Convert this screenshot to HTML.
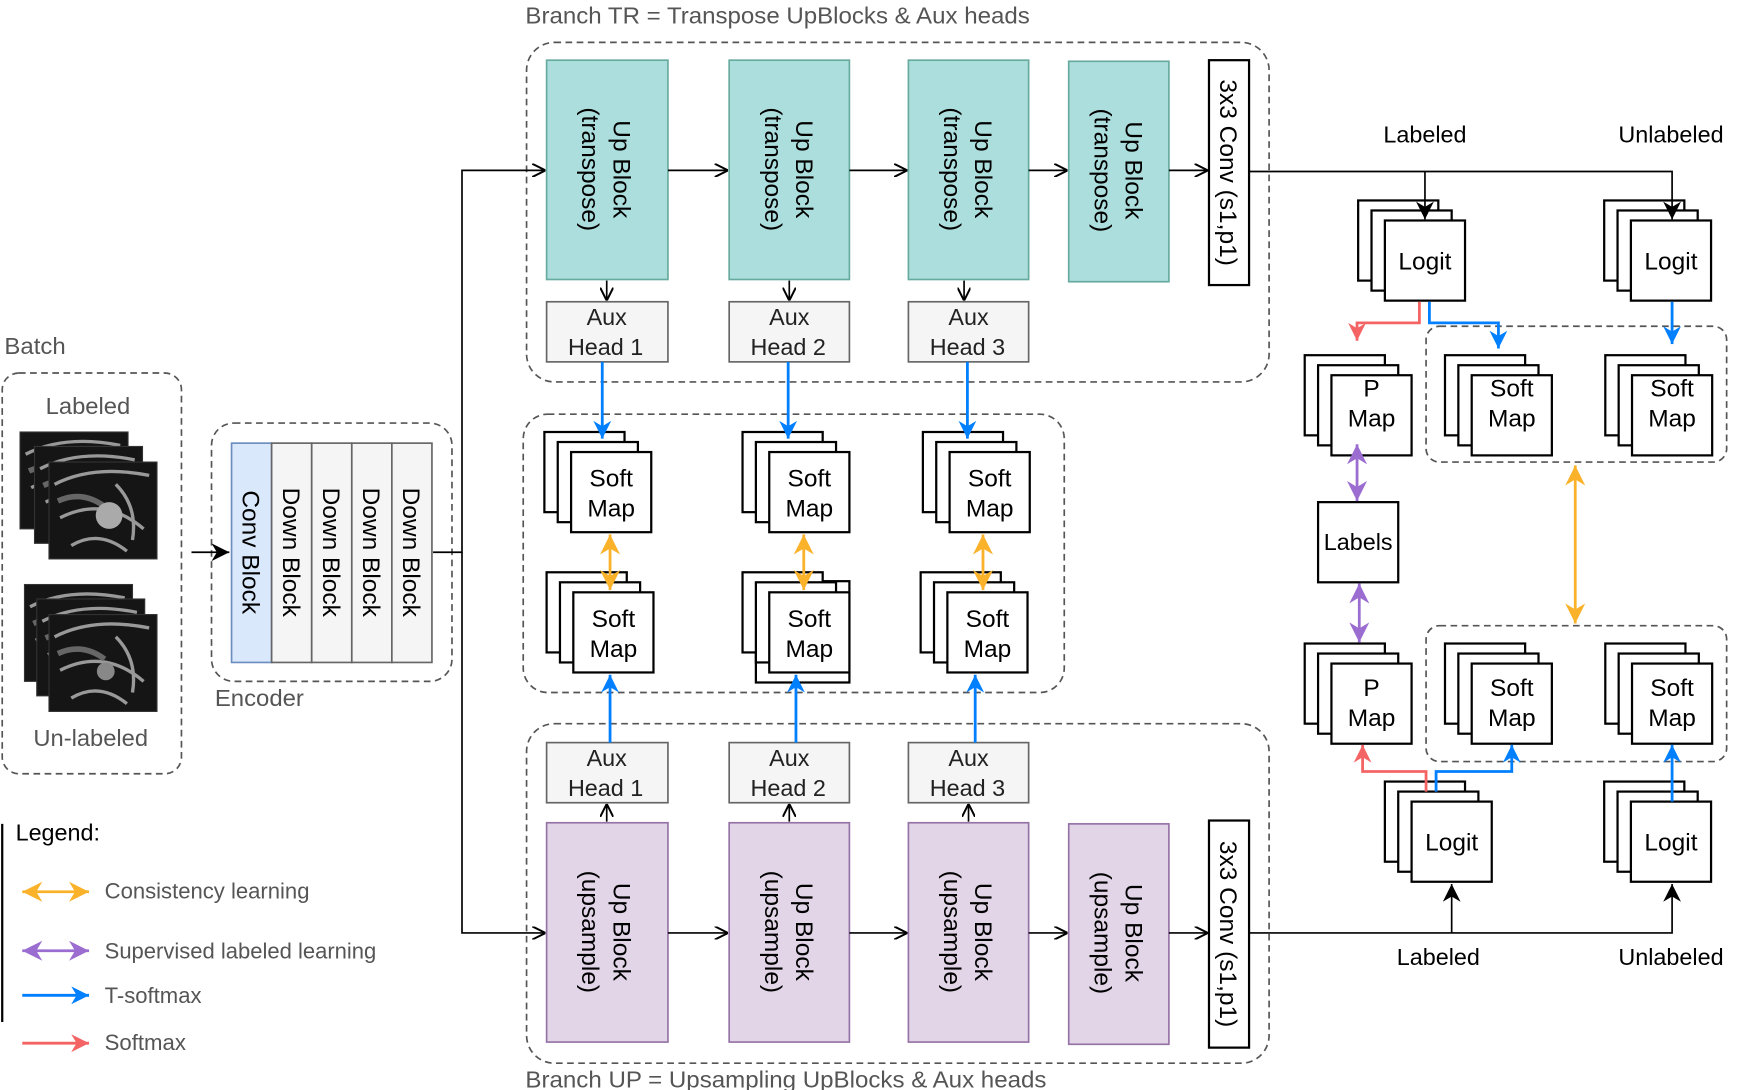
<!DOCTYPE html>
<html><head><meta charset="utf-8"><style>
html,body{margin:0;padding:0;background:#fff;width:1740px;height:1090px;overflow:hidden}
svg{display:block}
text{font-family:"Liberation Sans",sans-serif}
</style></head><body>
<svg width="1740" height="1090" viewBox="0 0 1563 979" xmlns="http://www.w3.org/2000/svg">
<defs>
<marker id="op" viewBox="0 0 10 10" refX="10" refY="5" markerWidth="12" markerHeight="12" markerUnits="userSpaceOnUse" orient="auto"><path d="M0,0 L10,5 L0,10" fill="none" stroke="#000" stroke-width="1.5"/></marker>
<marker id="fk" viewBox="0 0 10 10" refX="10" refY="5" markerWidth="16" markerHeight="16" markerUnits="userSpaceOnUse" orient="auto"><path d="M0,0 L10,5 L0,10 L3,5z" fill="#000"/></marker>
<marker id="fb" viewBox="0 0 10 10" refX="10" refY="5" markerWidth="16" markerHeight="16" markerUnits="userSpaceOnUse" orient="auto"><path d="M0,0 L10,5 L0,10 L3,5z" fill="#007fff"/></marker>
<marker id="fr" viewBox="0 0 10 10" refX="10" refY="5" markerWidth="16" markerHeight="16" markerUnits="userSpaceOnUse" orient="auto"><path d="M0,0 L10,5 L0,10 L3,5z" fill="#f46464"/></marker>
<marker id="fo" viewBox="0 0 10 10" refX="10" refY="5" markerWidth="18" markerHeight="18" markerUnits="userSpaceOnUse" orient="auto-start-reverse"><path d="M0,0 L10,5 L0,10 L3,5z" fill="#fbb22b"/></marker>
<marker id="fp" viewBox="0 0 10 10" refX="10" refY="5" markerWidth="18" markerHeight="18" markerUnits="userSpaceOnUse" orient="auto-start-reverse"><path d="M0,0 L10,5 L0,10 L3,5z" fill="#9b6dd1"/></marker>
<g id="stk" fill="#fff" stroke="#000" stroke-width="2">
<rect x="0" y="0" width="72" height="72"/><rect x="12" y="9" width="72" height="72"/><rect x="24" y="18" width="72" height="72"/>
</g>
<g id="img">
<rect x="0" y="0" width="97" height="87" fill="#151515" stroke="#333"/>
<path d="M5,20 Q40,2 90,12 M10,50 Q50,30 85,60 M20,75 Q45,60 70,80 M60,20 Q80,40 75,70" stroke="#999" stroke-width="3" fill="none"/>
<path d="M8,35 Q30,25 50,40" stroke="#666" stroke-width="5" fill="none"/>
</g>
</defs>

<!-- captions -->
<g fill="#555" font-size="21">
<text x="472" y="21" textLength="453" lengthAdjust="spacingAndGlyphs">Branch TR = Transpose UpBlocks &amp; Aux heads</text>
<text x="472" y="977" textLength="468" lengthAdjust="spacingAndGlyphs">Branch UP = Upsampling UpBlocks &amp; Aux heads</text>
<text x="4" y="318" textLength="55" lengthAdjust="spacingAndGlyphs">Batch</text>
<text x="41" y="372" textLength="76" lengthAdjust="spacingAndGlyphs">Labeled</text>
<text x="30" y="670" textLength="103" lengthAdjust="spacingAndGlyphs">Un-labeled</text>
<text x="193" y="634" textLength="80" lengthAdjust="spacingAndGlyphs">Encoder</text>
<text x="94" y="807" font-size="20" textLength="184" lengthAdjust="spacingAndGlyphs">Consistency learning</text>
<text x="94" y="861" font-size="20" textLength="244" lengthAdjust="spacingAndGlyphs">Supervised labeled learning</text>
<text x="94" y="901" font-size="20" textLength="87" lengthAdjust="spacingAndGlyphs">T-softmax</text>
<text x="94" y="943" font-size="20" textLength="73" lengthAdjust="spacingAndGlyphs">Softmax</text>
</g>

<!-- dashed groups -->
<g fill="none" stroke="#555" stroke-width="1.5" stroke-dasharray="6,4">
<rect x="473" y="38" width="667" height="305" rx="25"/>
<rect x="470" y="372" width="486" height="250" rx="22"/>
<rect x="473" y="650" width="667" height="305" rx="25"/>
<rect x="2" y="335" width="161" height="360" rx="15"/>
<rect x="190" y="380" width="216" height="232" rx="20"/>
<rect x="1281" y="293" width="270" height="122" rx="12"/>
<rect x="1281" y="562" width="270" height="122" rx="12"/>
</g>

<!-- images -->
<use href="#img" x="18" y="388"/><use href="#img" x="31" y="401"/><use href="#img" x="44" y="415"/>
<use href="#img" x="22" y="525"/><use href="#img" x="33" y="538"/><use href="#img" x="44" y="552"/>
<circle cx="98" cy="463" r="12" fill="#aaa"/><circle cx="95" cy="603" r="8" fill="#888"/>

<!-- encoder -->
<rect x="208" y="398" width="36" height="197" fill="#dae8fc" stroke="#6c8ebf" stroke-width="1.5"/>
<g fill="#f5f5f5" stroke="#666" stroke-width="1.5">
<rect x="244" y="398" width="36" height="197"/><rect x="280" y="398" width="36" height="197"/><rect x="316" y="398" width="36" height="197"/><rect x="352" y="398" width="36" height="197"/>
</g>
<g font-size="22" fill="#000" text-anchor="middle">
<text transform="translate(218,496) rotate(90)">Conv Block</text>
<text transform="translate(254,496) rotate(90)">Down Block</text>
<text transform="translate(290,496) rotate(90)">Down Block</text>
<text transform="translate(326,496) rotate(90)">Down Block</text>
<text transform="translate(362,496) rotate(90)">Down Block</text>
</g>

<!-- up blocks -->
<g fill="#acdedd" stroke="#67ab9f" stroke-width="1.5">
<rect x="491" y="54" width="109" height="197"/><rect x="655" y="54" width="108" height="197"/><rect x="816" y="54" width="108" height="197"/><rect x="960" y="55" width="90" height="198"/>
</g>
<g fill="#e1d5e7" stroke="#9673a6" stroke-width="1.5">
<rect x="491" y="739" width="109" height="197"/><rect x="655" y="739" width="108" height="197"/><rect x="816" y="739" width="108" height="197"/><rect x="960" y="740" width="90" height="198"/>
</g>
<g font-size="22" fill="#000" text-anchor="middle">
<text transform="translate(545,152) rotate(90)"><tspan x="0" y="-6">Up Block</tspan><tspan x="0" y="22">(transpose)</tspan></text>
<text transform="translate(709,152) rotate(90)"><tspan x="0" y="-6">Up Block</tspan><tspan x="0" y="22">(transpose)</tspan></text>
<text transform="translate(870,152) rotate(90)"><tspan x="0" y="-6">Up Block</tspan><tspan x="0" y="22">(transpose)</tspan></text>
<text transform="translate(1005,153) rotate(90)"><tspan x="0" y="-6">Up Block</tspan><tspan x="0" y="22">(transpose)</tspan></text>
<text transform="translate(545,837) rotate(90)"><tspan x="0" y="-6">Up Block</tspan><tspan x="0" y="22">(upsample)</tspan></text>
<text transform="translate(709,837) rotate(90)"><tspan x="0" y="-6">Up Block</tspan><tspan x="0" y="22">(upsample)</tspan></text>
<text transform="translate(870,837) rotate(90)"><tspan x="0" y="-6">Up Block</tspan><tspan x="0" y="22">(upsample)</tspan></text>
<text transform="translate(1005,838) rotate(90)"><tspan x="0" y="-6">Up Block</tspan><tspan x="0" y="22">(upsample)</tspan></text>
</g>
<g fill="#fff" stroke="#000" stroke-width="2">
<rect x="1086" y="54" width="36" height="202"/><rect x="1086" y="737" width="36" height="204"/>
</g>
<g font-size="22" text-anchor="middle">
<text transform="translate(1104,155) rotate(90)" y="8">3x3 Conv (s1,p1)</text>
<text transform="translate(1104,839) rotate(90)" y="8">3x3 Conv (s1,p1)</text>
</g>

<!-- aux heads -->
<g fill="#f5f5f5" stroke="#666" stroke-width="1.5">
<rect x="491" y="271" width="109" height="54"/><rect x="655" y="271" width="108" height="54"/><rect x="816" y="271" width="108" height="54"/>
<rect x="491" y="667" width="109" height="54"/><rect x="655" y="667" width="108" height="54"/><rect x="816" y="667" width="108" height="54"/>
</g>
<g font-size="21" fill="#222" text-anchor="middle">
<text x="545" y="292">Aux</text><text x="544" y="319">Head 1</text>
<text x="709" y="292">Aux</text><text x="708" y="319">Head 2</text>
<text x="870" y="292">Aux</text><text x="869" y="319">Head 3</text>
<text x="545" y="688">Aux</text><text x="544" y="715">Head 1</text>
<text x="709" y="688">Aux</text><text x="708" y="715">Head 2</text>
<text x="870" y="688">Aux</text><text x="869" y="715">Head 3</text>
</g>

<!-- black open connectors -->
<g fill="none" stroke="#000" stroke-width="1.5" marker-end="url(#op)">
<path d="M389,496 H415 V153 H490"/>
<path d="M415,496 V838 H490"/>
<path d="M600,153 H654"/><path d="M763,153 H815"/><path d="M924,153 H959"/><path d="M1050,153 H1085"/>
<path d="M600,838 H654"/><path d="M763,838 H815"/><path d="M924,838 H959"/><path d="M1050,838 H1085"/>
<path d="M545,252 V270"/><path d="M709,252 V270"/><path d="M866,252 V270"/>
<path d="M545,738 V722"/><path d="M709,738 V722"/><path d="M870,738 V722"/>
</g>

<!-- stacks -->
<use href="#stk" x="489" y="388"/><use href="#stk" x="667" y="388"/><use href="#stk" x="829" y="388"/>
<rect x="679" y="522" width="84" height="91" fill="#fff" stroke="#000" stroke-width="2"/>
<use href="#stk" x="491" y="514"/><use href="#stk" x="667" y="514"/><use href="#stk" x="827" y="514"/>
<use href="#stk" x="1220" y="180"/><use href="#stk" x="1441" y="180"/>
<use href="#stk" x="1172" y="319"/><use href="#stk" x="1298" y="319"/><use href="#stk" x="1442" y="319"/>
<use href="#stk" x="1172" y="578"/><use href="#stk" x="1298" y="578"/><use href="#stk" x="1442" y="578"/>
<use href="#stk" x="1244" y="702"/><use href="#stk" x="1441" y="702"/>
<rect x="1184" y="451" width="72" height="72" fill="#fff" stroke="#000" stroke-width="2"/>

<g font-size="22" fill="#000" text-anchor="middle">
<text x="549" y="437">Soft</text><text x="549" y="464">Map</text>
<text x="727" y="437">Soft</text><text x="727" y="464">Map</text>
<text x="889" y="437">Soft</text><text x="889" y="464">Map</text>
<text x="551" y="563">Soft</text><text x="551" y="590">Map</text>
<text x="727" y="563">Soft</text><text x="727" y="590">Map</text>
<text x="887" y="563">Soft</text><text x="887" y="590">Map</text>
<text x="1280" y="242">Logit</text><text x="1501" y="242">Logit</text>
<text x="1232" y="356">P</text><text x="1232" y="383">Map</text>
<text x="1358" y="356">Soft</text><text x="1358" y="383">Map</text>
<text x="1502" y="356">Soft</text><text x="1502" y="383">Map</text>
<text x="1232" y="625">P</text><text x="1232" y="652">Map</text>
<text x="1358" y="625">Soft</text><text x="1358" y="652">Map</text>
<text x="1502" y="625">Soft</text><text x="1502" y="652">Map</text>
<text x="1304" y="764">Logit</text><text x="1501" y="764">Logit</text>
<text x="1220" y="494" font-size="21">Labels</text>
<text x="1280" y="128" font-size="21">Labeled</text><text x="1501" y="128" font-size="21">Unlabeled</text>
<text x="1292" y="867" font-size="21">Labeled</text><text x="1501" y="867" font-size="21">Unlabeled</text>
<text x="14" y="755" text-anchor="start" font-size="21">Legend:</text>
</g>

<!-- black filled connectors (on top of stacks) -->
<g fill="none" stroke="#000" stroke-width="1.5" marker-end="url(#fk)">
<path d="M172,496 H206"/>
<path d="M1122,154 H1502 V197"/><path d="M1280,154 V197"/>
<path d="M1122,838 H1502 V794"/><path d="M1304,838 V794"/>
</g>

<!-- blue -->
<g fill="none" stroke="#007fff" stroke-width="2.5" marker-end="url(#fb)">
<path d="M541,325 V394"/><path d="M708,325 V394"/><path d="M869,325 V394"/>
<path d="M548,667 V606"/><path d="M715,667 V606"/><path d="M876,667 V606"/>
<path d="M1284,271 V290 H1346 V313"/><path d="M1502,271 V309"/>
<path d="M1290,711 V693 H1358 V669"/><path d="M1502,720 V669"/>
<path d="M20,894 H80"/>
</g>
<!-- red -->
<g fill="none" stroke="#f46464" stroke-width="2.5" marker-end="url(#fr)">
<path d="M1275,271 V290 H1219 V306"/>
<path d="M1281,711 V693 H1224 V669"/>
<path d="M20,937 H80"/>
</g>
<!-- orange -->
<g fill="none" stroke="#fbb22b" stroke-width="2.5" marker-start="url(#fo)" marker-end="url(#fo)">
<path d="M548,480 V530"/><path d="M722,480 V530"/><path d="M883,480 V530"/>
<path d="M1415,418 V560"/><path d="M20,801 H80"/>
</g>
<!-- purple -->
<g fill="none" stroke="#9b6dd1" stroke-width="2.5" marker-start="url(#fp)" marker-end="url(#fp)">
<path d="M1219,399 V450"/><path d="M1221,524 V577"/><path d="M20,854 H80"/>
</g>
<line x1="2" y1="740" x2="2" y2="918" stroke="#000" stroke-width="2"/>
</svg>
</body></html>
